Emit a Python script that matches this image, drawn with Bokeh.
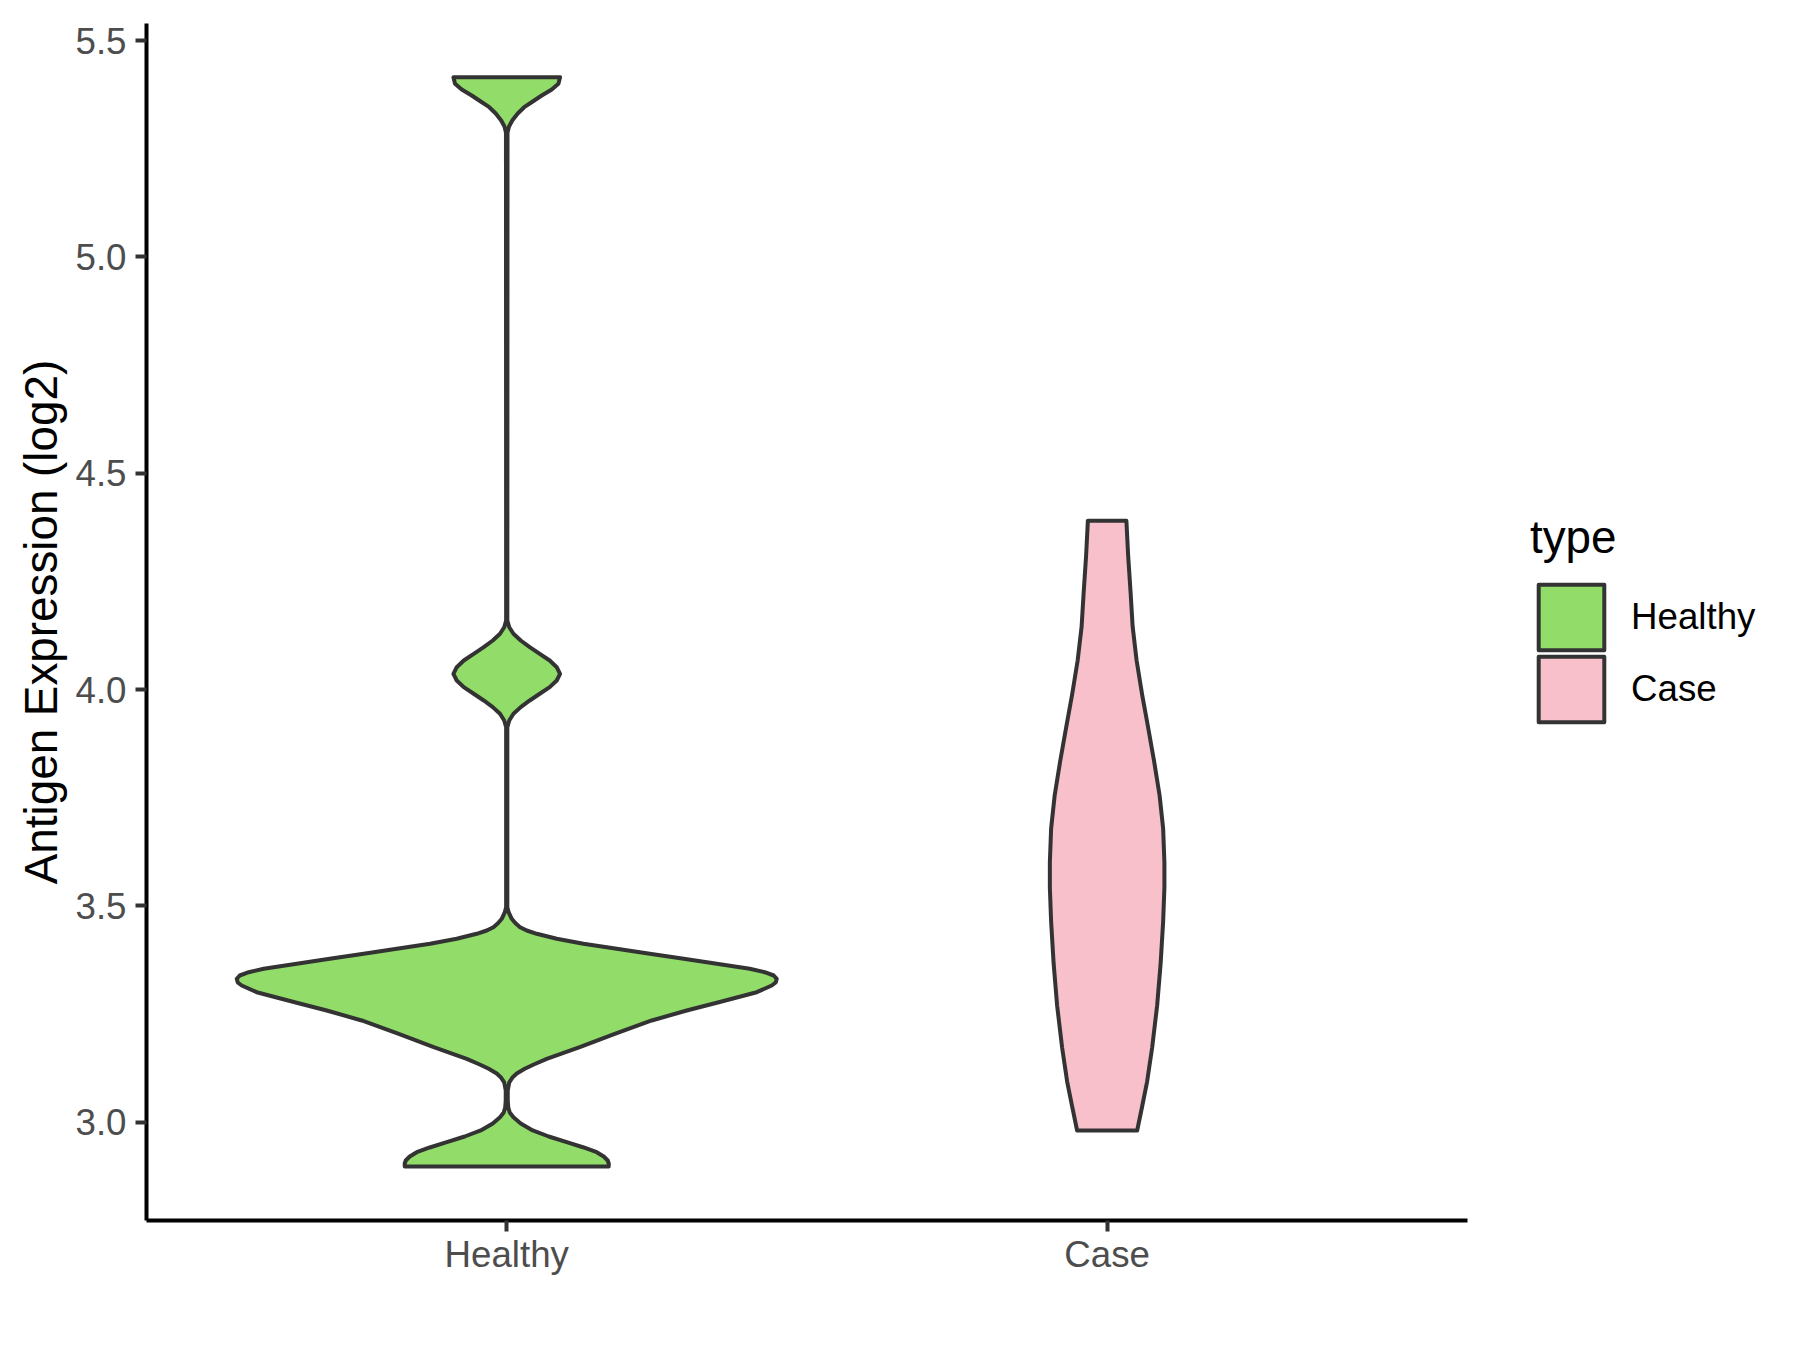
from bokeh.plotting import figure
from bokeh.models import Range1d, FixedTicker, Legend, LegendItem
from bokeh.embed import file_html
from bokeh.resources import INLINE

# ---- data ----
categories = ["Healthy", "Case"]
cat_positions = [1, 2]
fill_colors = ["#92DC6A", "#F7C0CB"]
y_ticks = [3.0, 3.5, 4.0, 4.5, 5.0, 5.5]
y_tick_labels = ["3.0", "3.5", "4.0", "4.5", "5.0", "5.5"]

# violin outlines: value (log2 expression) and half-width (in category units)
healthy_y = [5.4156, 5.4004, 5.3872, 5.3733, 5.3594, 5.3463, 5.3317, 5.3155, 5.3016, 5.2878,
             4.1596, 4.1441, 4.1289, 4.1134, 4.0979, 4.0826, 4.0671, 4.0516, 4.0364, 4.0209,
             4.0056, 3.9902, 3.9747, 3.9594, 3.9439, 3.9284, 3.9129,
             3.4968, 3.4846, 3.4700, 3.4603, 3.4506, 3.4429, 3.4353, 3.4238, 3.4122, 3.4006,
             3.3891, 3.3775, 3.3660, 3.3544, 3.3465, 3.3389, 3.3313, 3.3227, 3.3158, 3.3003,
             3.2772, 3.2580, 3.2349, 3.2041, 3.1732, 3.1463, 3.1332, 3.1232, 3.1124, 3.1038,
             3.0916, 3.0731, 3.0499, 3.0345, 3.0222, 3.0113, 2.9968, 2.9806, 2.9667, 2.9535,
             2.9413, 2.9304, 2.9205, 2.9112, 2.9043, 2.8974]
healthy_w = [0.0888, 0.0861, 0.0750, 0.0583, 0.0433, 0.0291, 0.0183, 0.0092, 0.0038, 0.0013,
             0.0010, 0.0042, 0.0112, 0.0233, 0.0383, 0.0550, 0.0716, 0.0833, 0.0888, 0.0833,
             0.0716, 0.0550, 0.0383, 0.0233, 0.0112, 0.0042, 0.0010,
             0.0010, 0.0033, 0.0083, 0.0142, 0.0222, 0.0333, 0.0500, 0.0833, 0.1277, 0.1832,
             0.2382, 0.2948, 0.3498, 0.4047, 0.4297, 0.4447, 0.4497, 0.4480, 0.4414, 0.4164,
             0.3531, 0.2998, 0.2415, 0.1799, 0.1216, 0.0666, 0.0450, 0.0300, 0.0167, 0.0100,
             0.0042, 0.0017, 0.0017, 0.0025, 0.0050, 0.0112, 0.0233, 0.0433, 0.0700, 0.0999,
             0.1282, 0.1499, 0.1616, 0.1682, 0.1699, 0.1699]

case_y = [4.3900, 4.3099, 4.2243, 4.1457, 4.0671, 3.9885, 3.9122, 3.8336, 3.7550, 3.6787,
          3.6001, 3.5423, 3.4637, 3.3666, 3.2696, 3.1724, 3.0938, 3.0361, 2.9806]
case_w = [0.0321, 0.0350, 0.0391, 0.0425, 0.0491, 0.0583, 0.0683, 0.0783, 0.0874, 0.0933,
          0.0954, 0.0954, 0.0933, 0.0891, 0.0833, 0.0750, 0.0666, 0.0583, 0.0500]

violins = [(healthy_y, healthy_w), (case_y, case_w)]

FONT = "Liberation Sans"

# the frame extends to the right so the legend can sit inside it;
# the x axis itself is bounded to the panel's range (0.4 .. 2.6)
x_panel = (0.4, 2.6)
p = figure(width=1800, height=1350, output_backend="svg", toolbar_location=None,
           x_range=Range1d(0.4, 3.1382), y_range=Range1d(2.7725, 5.5398),
           min_border_left=146, min_border_right=10, min_border_top=23,
           min_border_bottom=130)
p.outline_line_color = None
p.xgrid.visible = False
p.ygrid.visible = False
p.background_fill_color = "white"

renderers = []
for pos, (ys, ws), col in zip(cat_positions, violins, fill_colors):
    xs = [pos - w for w in ws] + [pos + w for w in reversed(ws)]
    yy = list(ys) + list(reversed(ys))
    r = p.patch(xs, yy, fill_color=col, line_color="#333333", line_width=4,
                line_join="round")
    renderers.append(r)

# axes
for ax in (p.xaxis[0], p.yaxis[0]):
    ax.axis_line_color = "black"
    ax.axis_line_width = 4
    ax.major_tick_line_color = "#333333"
    ax.major_tick_line_width = 4
    ax.major_tick_out = 11
    ax.major_tick_in = 0
    ax.minor_tick_line_color = None
    ax.major_label_text_font = FONT
    ax.major_label_text_font_size = "36.7px"
    ax.major_label_text_color = "#4D4D4D"

p.xaxis.bounds = x_panel
p.xaxis.ticker = FixedTicker(ticks=cat_positions)
p.xaxis.major_label_overrides = {pos: c for pos, c in zip(cat_positions, categories)}
p.xaxis.major_label_standoff = 2

p.yaxis.ticker = FixedTicker(ticks=y_ticks)
p.yaxis.major_label_overrides = {t: s for t, s in zip(y_ticks, y_tick_labels)}
p.yaxis.major_label_standoff = 9
p.yaxis.axis_label = "Antigen Expression (log2)"
p.yaxis.axis_label_text_font = FONT
p.yaxis.axis_label_text_font_size = "45.8px"
p.yaxis.axis_label_text_font_style = "normal"
p.yaxis.axis_label_text_color = "black"
p.yaxis.axis_label_standoff = 5


def make_legend(label, renderer, loc, title=None):
    lg = Legend(items=[LegendItem(label=label, renderers=[renderer])], location=loc)
    if title is not None:
        lg.title = title
        lg.title_text_font = FONT
        lg.title_text_font_size = "45.8px"
        lg.title_text_font_style = "normal"
        lg.title_text_color = "black"
        lg.title_standoff = 12
    lg.label_text_font = FONT
    lg.label_text_font_size = "36.7px"
    lg.label_text_color = "black"
    lg.glyph_width = 82
    lg.glyph_height = 82
    lg.label_standoff = 19
    lg.padding = 0
    lg.margin = 0
    lg.spacing = 0
    lg.border_line_color = None
    lg.background_fill_alpha = 0
    return lg


p.add_layout(make_legend(categories[0], renderers[0], (1384, 562), title="type"), "center")
p.add_layout(make_legend(categories[1], renderers[1], (1384, 490)), "center")

open("out.html", "w").write(file_html(p, INLINE))
